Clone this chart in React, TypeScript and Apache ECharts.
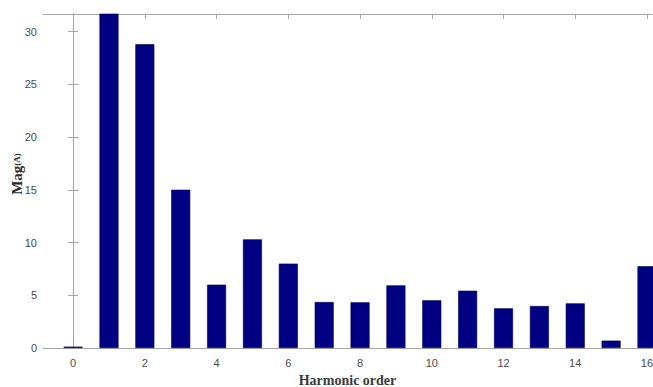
import React, { useEffect, useRef } from "react";
import * as echarts from "echarts";

const harmonicOrders = [0, 1, 2, 3, 4, 5, 6, 7, 8, 9, 10, 11, 12, 13, 14, 15, 16];
const magnitudes = [0.13, 33, 28.8, 15.0, 6.0, 10.3, 8.0, 4.36, 4.33, 5.94, 4.52, 5.43, 3.76, 3.98, 4.23, 0.7, 7.75];
const xTicks = [0, 2, 4, 6, 8, 10, 12, 14, 16];
const yTicks = [0, 5, 10, 15, 20, 25, 30];

export default function App() {
  const ref = useRef<HTMLDivElement>(null);
  useEffect(() => {
    if (!ref.current) return;
    const chart = echarts.init(ref.current, null, { renderer: "svg" });
    const axisColor = "#a6a6a6";
    const labelStyle = { color: "#4a4a4a", fontSize: 11, fontFamily: "Liberation Sans, Arial, sans-serif" };
    const xMin = -0.84;
    const xMax = 16.14;
    const yMax = 31.66;
    chart.setOption({
      animation: false,
      grid: { left: 43, top: 14, right: 1, bottom: 39, containLabel: false, outerBoundsMode: "none" },
      xAxis: [
        {
          type: "value",
          min: xMin,
          max: xMax,
          position: "bottom",
          name: "Harmonic order",
          nameLocation: "middle",
          nameGap: 25,
          nameMoveOverlap: false,
          nameTextStyle: { color: "#3a3a3a", fontSize: 14, fontWeight: "bold", fontFamily: "Liberation Serif, Times New Roman, serif" },
          axisLine: { show: true, onZero: false, lineStyle: { color: axisColor, width: 1 } },
          axisTick: { show: true, inside: true, length: 5, lineStyle: { color: axisColor }, customValues: xTicks },
          axisLabel: { ...labelStyle, margin: 9, customValues: xTicks },
          splitLine: { show: false },
        },
        {
          type: "value",
          min: xMin,
          max: xMax,
          position: "top",
          axisLine: { show: true, onZero: false, lineStyle: { color: axisColor, width: 1 } },
          axisTick: { show: true, inside: true, length: 5, lineStyle: { color: axisColor }, customValues: xTicks },
          axisLabel: { show: false },
          splitLine: { show: false },
        },
      ],
      yAxis: [
        {
          type: "value",
          min: 0,
          max: yMax,
          position: "left",
          name: "{a|Mag}{b|(A)}",
          nameLocation: "middle",
          nameGap: 19,
          nameMoveOverlap: false,
          nameRotate: 90,
          nameTextStyle: {
            padding: [0, 0, 0, 14],
            rich: {
              a: { fontSize: 15, fontWeight: "bold", color: "#2a2a2a", fontFamily: "Liberation Serif, Times New Roman, serif" },
              b: { fontSize: 9, fontWeight: "bold", color: "#2a2a2a", fontFamily: "Liberation Serif, Times New Roman, serif" },
            },
          },
          axisLine: { show: true, lineStyle: { color: axisColor, width: 1 } },
          axisTick: { show: true, inside: true, length: 5, lineStyle: { color: axisColor }, customValues: yTicks },
          axisLabel: { ...labelStyle, margin: 6, customValues: yTicks },
          splitLine: { show: false },
        },
        {
          type: "value",
          min: 0,
          max: yMax,
          position: "right",
          axisLine: { show: true, lineStyle: { color: axisColor, width: 1 } },
          axisTick: { show: true, inside: true, length: 5, lineStyle: { color: axisColor }, customValues: yTicks },
          axisLabel: { show: false },
          splitLine: { show: false },
        },
      ],
      series: [
        {
          type: "bar",
          xAxisIndex: 0,
          yAxisIndex: 0,
          barWidth: 19,
          clip: true,
          data: harmonicOrders.map((h, i) => [h, magnitudes[i]]),
          itemStyle: { color: "#000083", borderColor: "#00004a", borderWidth: 0.6 },
        },
      ],
    });
    return () => chart.dispose();
  }, []);
  return <div ref={ref} style={{ width: 653, height: 387, position: "absolute", left: 0, top: 0, background: "#fff" }} />;
}
